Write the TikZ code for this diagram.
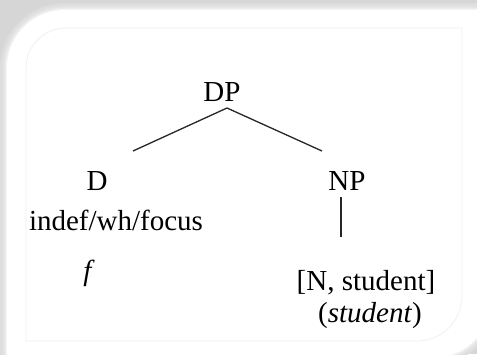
\documentclass[tikz,border=0pt]{standalone}
\usepackage{fontspec}
\setmainfont{Liberation Serif}[ItalicFont={Liberation Serif Italic},BoldFont={Liberation Serif Bold}]
\begin{document}
\begin{tikzpicture}[x=1pt,y=-1pt,
  lbl/.style={anchor=base,inner sep=0pt,font=\fontsize{29}{34}\selectfont},
  branch/.style={line width=1.3pt,draw=black!85}]
\useasboundingbox (0,0) rectangle (477,354);
% shadow background
\fill[gray!32] (0,0) rectangle (477,354);
\def\cardpath{(7,370) -- (7,68) arc[start angle=180,end angle=270,radius=58] -- (490,10) -- (490,302) arc[start angle=0,end angle=90,radius=55] -- cycle}
\draw[gray!27,line width=14pt] \cardpath;
\draw[gray!22,line width=9pt] \cardpath;
\draw[gray!16,line width=5pt] \cardpath;
\draw[gray!9,line width=2pt] \cardpath;
\fill[white] \cardpath;
% inner thin border
\draw[gray!12,line width=0.8pt] (26,341) -- (26,68) arc[start angle=180,end angle=270,radius=40] -- (462,28) -- (462,296) arc[start angle=0,end angle=90,radius=45] -- cycle;
% nodes
\node[lbl] (dp) at (222,101) {DP};
\node[lbl] (d) at (97,190) {D};
\node[lbl] (np) at (347,190) {NP};
\node[lbl] (feat) at (116,230) {indef/wh/focus};
\node[lbl] (f) at (89,280) {\textit{f}};
\node[lbl] (n) at (366,290) {[N, student]};
\node[lbl] (st) at (370,322) {(\textit{student})};
% connectors
\coordinate (apex) at (227,108);
\coordinate (dl) at (133,151);
\coordinate (dr) at (322,151);
\coordinate (vt) at (341,197);
\coordinate (vb) at (341,237);
\draw[branch] (dl) -- (apex) -- (dr);
\draw[branch] (vt) -- (vb);
\end{tikzpicture}
\end{document}
